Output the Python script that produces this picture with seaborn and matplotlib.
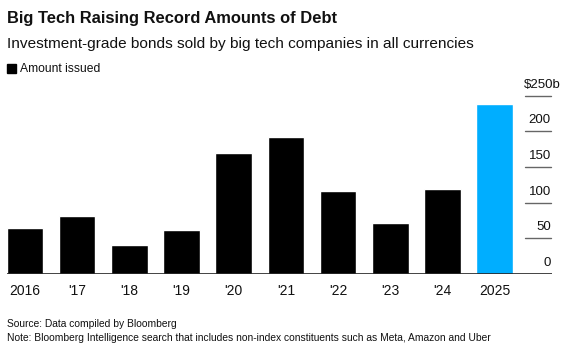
import pandas as pd
import matplotlib.pyplot as plt
import seaborn as sns

years = ["2016", "'17", "'18", "'19", "'20", "'21", "'22", "'23", "'24", "2025"]
amounts = [65, 82, 40, 62, 169, 192, 117, 72, 119, 238]
y_ticks = [0, 50, 100, 150, 200, 250]
y_labels = ["0", "50", "100", "150", "200", "$250b"]

df = pd.DataFrame({"Year": years, "Amount": amounts})
bar_colors = {y: "#000000" for y in years}
bar_colors["2025"] = "#00AEFF"

sns.set_theme(style="white")
plt.rcParams["font.family"] = ["Liberation Sans", "DejaVu Sans"]

fig = plt.figure(figsize=(5.7, 3.57), dpi=100)
W, H = 570, 357
ax = fig.add_axes([7 / W, 1 - 274 / H, 545 / W, 178.3 / H])

sns.barplot(data=df, x="Year", y="Amount", hue="Year", palette=bar_colors,
            width=0.7, legend=False, saturation=1, ax=ax)

ax.set_xlim(-0.345, 10.1)
ax.set_ylim(0, 250)
for s in ax.spines.values():
    s.set_visible(False)
ax.axhline(0, color="#222222", lw=1.2, zorder=5)
ax.set_yticks([])
ax.set_xlabel("")
ax.set_ylabel("")
ax.tick_params(axis="x", length=0, pad=7, labelsize=10, colors="#111111")

# right-hand value scale: short rules with labels sitting above them
trans = ax.get_yaxis_transform()
for v, lab in zip(y_ticks, y_labels):
    if v > 0:
        ax.plot([0.951, 0.998], [v, v], color="#666666", lw=1, transform=trans, clip_on=False)
    xpos = 1.0165 if lab.endswith("b") else 0.998
    ax.text(xpos, v + 7, lab, transform=trans, ha="right", va="bottom",
            fontsize=9.5, color="#111111", clip_on=False)

fig.text(7 / W, 1 - 18 / H, "Big Tech Raising Record Amounts of Debt", fontsize=11.9,
         fontweight="bold", va="center", ha="left", color="#111111")
fig.text(7 / W, 1 - 44 / H, "Investment-grade bonds sold by big tech companies in all currencies",
         fontsize=11.1, va="center", ha="left", color="#111111")
fig.patches.append(plt.Rectangle((7 / W, 1 - 73 / H), 9 / W, 9 / H, transform=fig.transFigure,
                                 color="black", figure=fig))
fig.text(20 / W, 1 - 68.5 / H, "Amount issued", fontsize=8.7, va="center", ha="left", color="#111111")

fig.text(7 / W, 1 - 324 / H, "Source: Data compiled by Bloomberg", fontsize=7.4,
         va="center", ha="left", color="#111111")
fig.text(7 / W, 1 - 338 / H,
         "Note: Bloomberg Intelligence search that includes non-index constituents such as Meta, Amazon and Uber",
         fontsize=7.4, va="center", ha="left", color="#111111")

fig.savefig("out.png", dpi=100)
